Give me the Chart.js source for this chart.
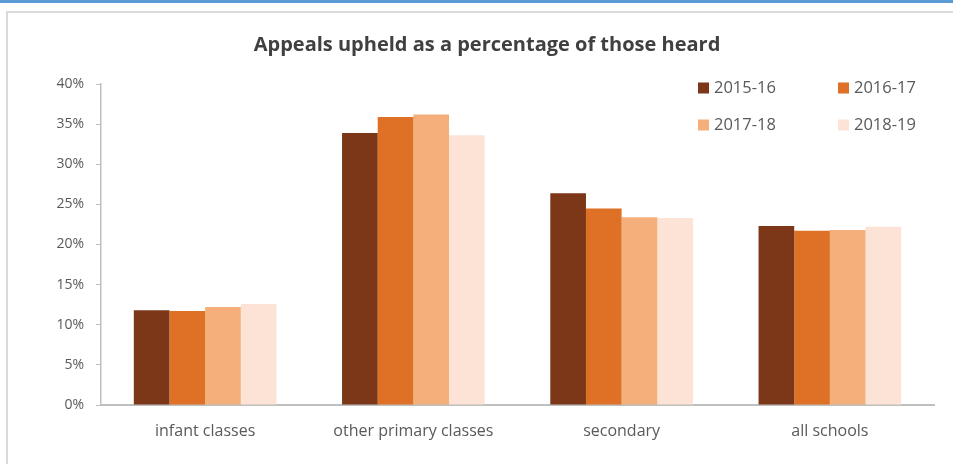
<!DOCTYPE html>
<html>
<head>
<meta charset="utf-8">
<script src="https://cdn.jsdelivr.net/npm/chart.js@4.4.0/dist/chart.umd.min.js"></script>
<style>
  html, body { margin: 0; padding: 0; background: #fff; }
  #wrap { position: relative; width: 953px; height: 464px; overflow: hidden; }
  #topline { position: absolute; left: 0; top: 0; width: 953px; height: 3px; background: #5b9bd5; }
  #frame { position: absolute; left: 6px; top: 11px; width: 960px; height: 470px;
           border-left: 2px solid #d9d9d9; border-top: 2px solid #d9d9d9; }
  canvas { position: absolute; left: 0; top: 0; }
</style>
</head>
<body>
<div id="wrap">
  <div id="topline"></div>
  <div id="frame"></div>
  <canvas id="appealsChart" width="953" height="464"></canvas>
</div>
<script>
// values (percent)
const categories = ['infant classes', 'other primary classes', 'secondary', 'all schools'];
const years = ['2015-16', '2016-17', '2017-18', '2018-19'];
const y2015 = [11.8, 33.9, 26.4, 22.3];
const y2016 = [11.7, 35.9, 24.5, 21.7];
const y2017 = [12.2, 36.2, 23.4, 21.8];
const y2018 = [12.6, 33.6, 23.3, 22.2];
const yTicks = [0, 5, 10, 15, 20, 25, 30, 35, 40];

const colours = ['#7b3718', '#de7126', '#f4af7b', '#fce3d5'];
const FONT = "'Open Sans', 'Liberation Sans', sans-serif";

// legend in a 2x2 grid inside the plot, like the original
const gridLegend = {
    id: 'gridLegend',
    afterDraw(chart) {
        const ctx = chart.ctx;
        const sets = chart.data.datasets;
        ctx.save();
        ctx.font = '16.5px ' + FONT;
        ctx.textBaseline = 'middle';
        sets.forEach(function(ds, i) {
            const x = 698 + (i % 2) * 140;
            const y = 88 + Math.floor(i / 2) * 37;
            ctx.fillStyle = ds.backgroundColor;
            ctx.fillRect(x, y - 5.5, 11, 11);
            ctx.fillStyle = '#595959';
            ctx.fillText(ds.label, x + 16, y);
        });
        ctx.restore();
    }
};

document.addEventListener('DOMContentLoaded', function() {
    const ctx = document.getElementById('appealsChart');
    const series = [y2015, y2016, y2017, y2018];

    new Chart(ctx, {
        type: 'bar',
        data: {
            labels: categories,
            datasets: years.map(function(y, i) {
                return {
                    label: y,
                    data: series[i],
                    backgroundColor: colours[i],
                    borderWidth: 0,
                    categoryPercentage: 0.685,
                    barPercentage: 1.0
                };
            })
        },
        options: {
            responsive: false,
            animation: false,
            layout: { padding: { left: 40, right: 19, top: 0, bottom: 0 } },
            scales: {
                x: {
                    grid: { display: false, drawTicks: false },
                    border: { display: true, color: '#bfbfbf', width: 2 },
                    ticks: {
                        color: '#595959',
                        font: { family: FONT, size: 16 },
                        padding: 17,
                        maxRotation: 0
                    },
                    afterFit: function(scale) { scale.height = 59; }
                },
                y: {
                    min: 0,
                    max: 40,
                    afterBuildTicks: function(scale) {
                        scale.ticks = yTicks.map(function(v) { return { value: v }; });
                    },
                    grid: {
                        drawOnChartArea: false,
                        drawTicks: true,
                        tickLength: 5,
                        color: '#bfbfbf',
                        lineWidth: 1
                    },
                    border: { display: true, color: '#bfbfbf', width: 1.5 },
                    ticks: {
                        color: '#595959',
                        font: { family: FONT, size: 14 },
                        padding: 12,
                        callback: function(v) { return v + '%'; }
                    },
                    afterFit: function(scale) { scale.width = 61; }
                }
            },
            plugins: {
                legend: { display: false },
                tooltip: { enabled: false },
                title: {
                    display: true,
                    text: 'Appeals upheld as a percentage of those heard',
                    color: '#404040',
                    font: { family: FONT, size: 20, weight: 'bold' },
                    padding: { top: 33, bottom: 27 }
                }
            }
        },
        plugins: [gridLegend]
    });
});
</script>
</body>
</html>
